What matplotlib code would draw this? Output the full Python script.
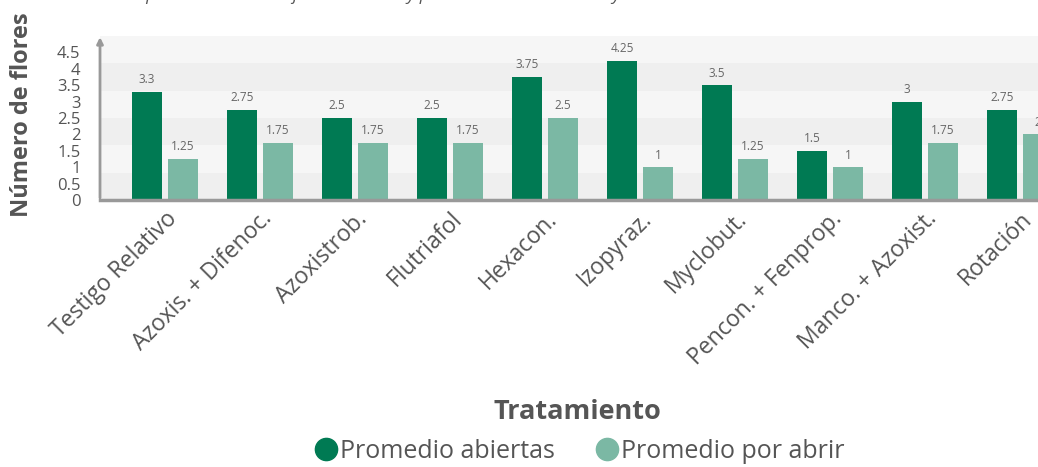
import matplotlib.pyplot as plt
import numpy as np

plt.rcParams['font.family'] = ['Open Sans', 'DejaVu Sans']

# datos del ensayo
tratamientos = ['Testigo Relativo', 'Azoxis. + Difenoc.', 'Azoxistrob.', 'Flutriafol', 'Hexacon.',
                'Izopyraz.', 'Myclobut.', 'Pencon. + Fenprop.', 'Manco. + Azoxist.', 'Rotación']
abiertas = [3.3, 2.75, 2.5, 2.5, 3.75, 4.25, 3.5, 1.5, 3, 2.75]
por_abrir = [1.25, 1.75, 1.75, 1.75, 2.5, 1, 1.25, 1, 1.75, 2]
y_ticks = [0, 0.5, 1, 1.5, 2, 2.5, 3, 3.5, 4, 4.5]

c_dark = '#007A53'
c_light = '#7BB8A4'
c_text = '#555555'

fig = plt.figure(figsize=(10.38, 4.67), dpi=100)
ax = fig.add_axes([100 / 1038, 1 - 200 / 467, 985 / 1038, 164 / 467])

x = np.arange(len(tratamientos))
w = 0.316
off = 0.19

# bandas de fondo
y_max = 5
n_bands = 6
for k in range(n_bands):
    col = '#efefef' if k % 2 == 0 else '#f6f6f6'
    ax.axhspan(k * y_max / n_bands, (k + 1) * y_max / n_bands, color=col, zorder=0, lw=0)

b1 = ax.bar(x - off, abiertas, w, color=c_dark, zorder=2)
b2 = ax.bar(x + off, por_abrir, w, color=c_light, zorder=2)

for bars, vals in ((b1, abiertas), (b2, por_abrir)):
    for b, v in zip(bars, vals):
        ax.annotate(f'{v:g}', (b.get_x() + b.get_width() / 2, v), xytext=(0, 4),
                    textcoords='offset points', ha='center', va='bottom',
                    fontsize=8.5, color='#666666')

ax.set_xlim(-0.684, 9.684)
ax.set_ylim(0, y_max)

for s in ['top', 'right', 'left']:
    ax.spines[s].set_visible(False)
ax.spines['bottom'].set_color('#999999')
ax.spines['bottom'].set_linewidth(2.5)
ax.spines['bottom'].set_zorder(3)

# eje y con flecha
ax.annotate('', xy=(-0.684, y_max + 0.05), xytext=(-0.684, -0.02),
            arrowprops=dict(arrowstyle='-|>', color='#999999', lw=2, mutation_scale=9),
            annotation_clip=False, zorder=4)

ax.set_yticks(y_ticks)
ax.set_yticklabels([f'{t:g}' for t in y_ticks], fontsize=12, color=c_text)
ax.tick_params(axis='y', length=0, pad=14)
ax.set_xticks(x)
ax.set_xticklabels(tratamientos, rotation=45, ha='right', rotation_mode='anchor',
                   fontsize=16.5, color=c_text)
ax.tick_params(axis='x', length=0, pad=5)

ax.set_ylabel('Número de flores', fontsize=17, fontweight='bold', color=c_text)
ax.yaxis.set_label_coords(-0.067, 0.52)

fig.text(577 / 1038, 1 - 412 / 467, 'Tratamiento', ha='center', va='center',
         fontsize=19.5, fontweight='bold', color=c_text)

h1 = plt.Line2D([], [], marker='o', ls='', color=c_dark, markersize=16)
h2 = plt.Line2D([], [], marker='o', ls='', color=c_light, markersize=16)
fig.legend([h1, h2], ['Promedio abiertas', 'Promedio por abrir'], loc='center',
           bbox_to_anchor=(579 / 1038, 1 - 451 / 467), ncol=2, frameon=False,
           fontsize=18, labelcolor=c_text, handletextpad=0.05, columnspacing=1.6,
           handlelength=1.0)

# subtítulo cortado en la parte superior
fig.text(5 / 1038, 1 - 0.5 / 467,
         'Valores obtenidos para el número de flores abiertas y por abrir durante el ensayo de tratamientos',
         ha='left', va='baseline', fontsize=12.5, style='italic', color=c_text)

fig.savefig('out.png', dpi=100)
